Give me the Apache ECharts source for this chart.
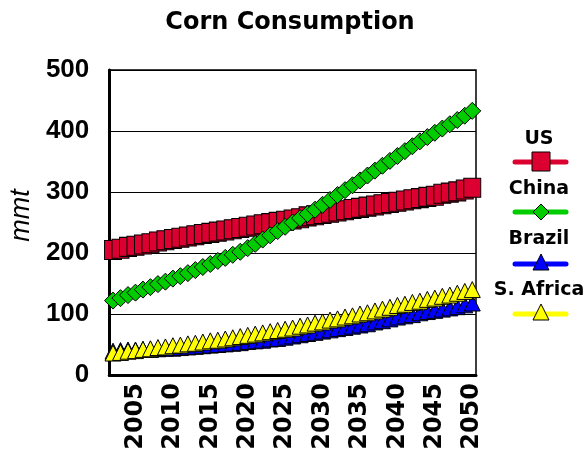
<!DOCTYPE html>
<html><head><meta charset="utf-8">
<script src="https://cdn.jsdelivr.net/npm/echarts@6/dist/echarts.min.js"></script>
<style>html,body{margin:0;padding:0;background:#fff}#c{width:584px;height:457px}</style>
</head><body><div id="c"></div>
<script>
const years = [];
for (let y = 2002; y <= 2050; y++) years.push(String(y));
const yTicks = [0, 100, 200, 300, 400, 500];
const us = [205,207,210,212,214,216,219,221,223,225,227,229,231,233,235,237,239,241,243,245,247,249,251,253,255,257,260,262,264,266,268,270,272,274,276,278,280,282,284,286,288,290,292,294,297,299,301,304,307];
const china = [122,126,131,135,140,144,149,153,158,162,167,172,177,182,187,192,197,202,208,215,222,229,236,243,250,257,264,271,279,287,295,303,311,319,327,335,343,351,359,367,375,383,390,397,404,411,418,425,433];
const brazil = [39,40,41,41,42,42,43,44,44,45,46,47,48,49,50,51,52,53,55,56,57,59,60,62,64,66,68,70,72,74,76,78,80,82,84,87,89,92,95,97,99,102,104,106,108,110,112,115,118];
const safrica = [36,37,39,40,42,43,45,46,48,49,51,52,54,56,57,59,61,63,65,67,69,71,73,75,77,80,82,85,87,90,92,95,97,100,102,105,108,111,114,116,119,121,124,126,129,131,134,137,140];
const names = ['US','China','Brazil','S. Africa'];
const colors = ['#DC0030','#00CC00','#0000FF','#FFFF00'];
const symbols = ['rect','diamond','triangle','triangle'];
const sizes = [[17,19],[17,17],[16,16],[16,16]];
const seriesData = [us, china, brazil, safrica];

const chart = echarts.init(document.getElementById('c'), null, {renderer:'canvas'});
const series = names.map((n,i)=>({
  name:n, type:'line', data:seriesData[i], symbol:symbols[i], symbolSize:sizes[i],
  showAllSymbol:true, animation:false,
  lineStyle:{color:colors[i], width:3},
  itemStyle:{color:colors[i], borderColor:'#000', borderWidth:1}
}));

const lg = [];
const legY = [[139,162],[189,212],[239,264],[290,314]];
names.forEach((n,i)=>{
  lg.push({type:'text', x:539, y:legY[i][0], style:{text:n, fill:'#000', font:'bold 19px "DejaVu Sans"', align:'center', verticalAlign:'middle'}});
  lg.push({type:'line', shape:{x1:515,y1:legY[i][1],x2:566,y2:legY[i][1]}, style:{stroke:colors[i], lineWidth:5, lineCap:'round'}});
  let s;
  const cx = 541, cy = legY[i][1];
  if (i===0) s = {type:'rect', shape:{x:cx-9,y:cy-10,width:18,height:19}};
  else if (i===1) s = {type:'polygon', shape:{points:[[cx,cy-8],[cx+8,cy],[cx,cy+8],[cx-8,cy]]}};
  else s = {type:'polygon', shape:{points:[[cx,cy-10],[cx+8,cy+6],[cx-8,cy+6]]}};
  s.style = {fill:colors[i], stroke:'#000', lineWidth:1};
  lg.push(s);
});

chart.setOption({
  animation:false,
  title:{text:'Corn Consumption', left:285, top:6, textAlign:'center',
    textStyle:{fontFamily:'DejaVu Sans', fontWeight:'bold', fontSize:24, color:'#000'}},
  grid:{left:106, right:108, top:70, bottom:82, show:true, borderColor:'#000', borderWidth:1.5, backgroundColor:'#fff'},
  xAxis:{type:'category', data:years, boundaryGap:true,
    axisLine:{lineStyle:{color:'#000', width:3}}, axisTick:{show:false},
    axisLabel:{rotate:90, margin:8, interval:(idx,val)=>Number(val)%5===0,
      fontFamily:'DejaVu Sans', fontWeight:'bold', fontSize:24, color:'#000'}},
  yAxis:{type:'value', min:0, max:500, interval:100,
    name:'mmt', nameLocation:'middle', nameGap:72, nameRotate:90,
    nameTextStyle:{fontFamily:'Liberation Sans', fontStyle:'italic', fontSize:27, color:'#000', padding:[0,0,0,14]},
    axisLine:{show:true, lineStyle:{color:'#000', width:3}}, axisTick:{show:false},
    splitLine:{lineStyle:{color:'#000', width:1}},
    axisLabel:{margin:20, fontFamily:'Liberation Sans', fontWeight:'bold', fontSize:26, color:'#000',
      formatter:v=>yTicks.includes(v)?String(v):''}},
  series: series,
  graphic: lg
});
</script></body></html>
